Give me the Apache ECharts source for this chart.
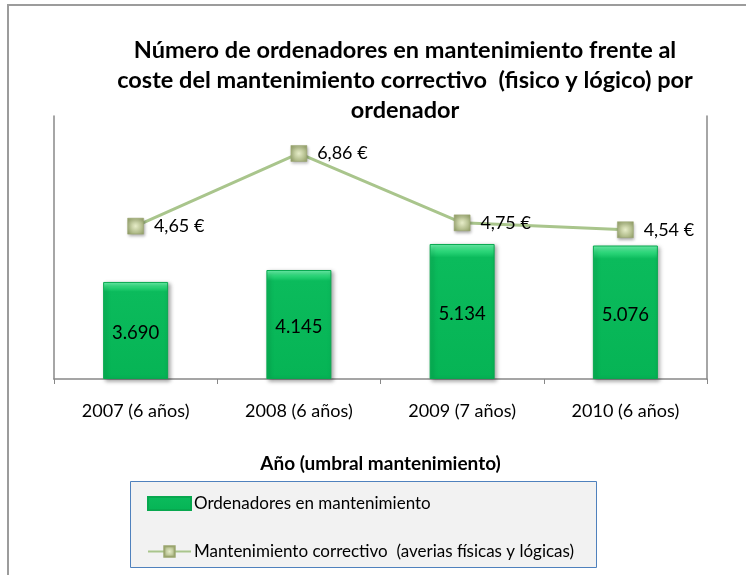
<!DOCTYPE html>
<html>
<head>
<meta charset="utf-8">
<script src="https://cdn.jsdelivr.net/npm/echarts@6/dist/echarts.min.js"></script>
<style>
html,body{margin:0;padding:0;background:#fff;}
#chart{width:746px;height:575px;}
</style>
</head>
<body>
<div id="chart"></div>
<script>
const categories = ['2007 (6 años)', '2008 (6 años)', '2009 (7 años)', '2010 (6 años)'];
const ordenadores = [3690, 4145, 5134, 5076];
const costeCorrectivo = [4.65, 6.86, 4.75, 4.54];
const titleText = 'Número de ordenadores en mantenimiento frente al\ncoste del mantenimiento correctivo  (fisico y lógico) por\nordenador';
const xAxisName = 'Año (umbral mantenimiento)';
const seriesNames = ['Ordenadores en mantenimiento', 'Mantenimiento correctivo  (averias físicas y lógicas)'];

const FONT = 'Lato';
const chart = echarts.init(document.getElementById('chart'), null, {renderer: 'canvas'});

const barColor = new echarts.graphic.LinearGradient(0, 0, 0, 1, [
  {offset: 0, color: '#6ff5ae'},
  {offset: 0.05, color: '#2fd97c'},
  {offset: 0.1, color: '#0bbb5c'},
  {offset: 1, color: '#06b455'}
]);
const markerColor = new echarts.graphic.RadialGradient(0.5, 0.5, 0.7, [
  {offset: 0, color: '#e6ecc8'},
  {offset: 1, color: '#8e9c62'}
]);

function fmtThousands(v) {
  return String(v).replace(/\B(?=(\d{3})+(?!\d))/g, '.');
}

const option = {
  backgroundColor: '#ffffff',
  animation: false,
  textStyle: {fontFamily: FONT},
  title: {
    text: titleText,
    left: 405,
    top: 35,
    textAlign: 'center',
    padding: 0,
    textStyle: {fontFamily: FONT, fontWeight: 'bold', fontSize: 23.5, lineHeight: 30, color: '#000'}
  },
  graphic: [
    {type: 'rect', z: -10, silent: true, shape: {x: 8, y: 5, width: 800, height: 700},
     style: {fill: 'none', stroke: '#9c9c9c', lineWidth: 2}},
    {type: 'rect', z: -5, silent: true, shape: {x: 130.5, y: 481.5, width: 466, height: 86},
     style: {fill: '#f2f2f2', stroke: '#4f81bd', lineWidth: 1}}
  ],
  legend: {
    orient: 'vertical',
    left: 147,
    top: 495,
    itemWidth: 43,
    itemHeight: 13,
    itemGap: 31,
    padding: 0,
    textStyle: {fontFamily: FONT, fontSize: 17, color: '#000', padding: [0, 0, 0, -2]},
    data: [
      {name: seriesNames[0], icon: 'rect'},
      {name: seriesNames[1]}
    ]
  },
  grid: {left: 54, right: 39, top: 116, bottom: 196},
  xAxis: {
    type: 'category',
    data: categories,
    name: xAxisName,
    nameLocation: 'middle',
    nameGap: 75,
    nameTextStyle: {fontFamily: FONT, fontWeight: 'bold', fontSize: 19, color: '#000'},
    axisLine: {lineStyle: {color: '#888888', width: 1.5}},
    axisTick: {show: true, length: 5, lineStyle: {color: '#888888'}},
    axisLabel: {fontFamily: FONT, fontSize: 18, color: '#000', margin: 23}
  },
  yAxis: [
    {type: 'value', min: 0, max: 10000, position: 'left',
     axisLine: {show: true, lineStyle: {color: '#888888', width: 1.5}},
     axisTick: {show: false}, axisLabel: {show: false}, splitLine: {show: false}},
    {type: 'value', min: 0, max: 8, position: 'right',
     axisLine: {show: true, lineStyle: {color: '#888888', width: 1.5}},
     axisTick: {show: false}, axisLabel: {show: false}, splitLine: {show: false}}
  ],
  series: [
    {
      name: seriesNames[0],
      type: 'bar',
      yAxisIndex: 0,
      data: ordenadores,
      barWidth: 65,
      itemStyle: {
        color: barColor,
        borderColor: '#08a84f',
        borderWidth: 1,
        shadowColor: 'rgba(0,0,0,0.35)',
        shadowBlur: 4,
        shadowOffsetX: 2,
        shadowOffsetY: 2
      },
      label: {
        show: true,
        position: 'inside',
        offset: [0, 3],
        fontFamily: FONT,
        fontSize: 18.5,
        color: '#000',
        formatter: p => fmtThousands(p.value)
      }
    },
    {
      name: seriesNames[1],
      type: 'line',
      yAxisIndex: 1,
      data: costeCorrectivo,
      symbol: 'rect',
      symbolSize: 16,
      z: 5,
      lineStyle: {color: '#a9c58c', width: 3},
      itemStyle: {
        color: markerColor,
        borderColor: '#9aa56e',
        borderWidth: 0.5,
        shadowColor: 'rgba(0,0,0,0.35)',
        shadowBlur: 3,
        shadowOffsetX: 1,
        shadowOffsetY: 2
      },
      label: {
        show: true,
        position: 'right',
        distance: 10,
        fontFamily: FONT,
        fontSize: 18,
        color: '#000',
        formatter: p => p.value.toFixed(2).replace('.', ',') + ' €'
      }
    }
  ]
};
chart.setOption(option);
</script>
</body>
</html>
